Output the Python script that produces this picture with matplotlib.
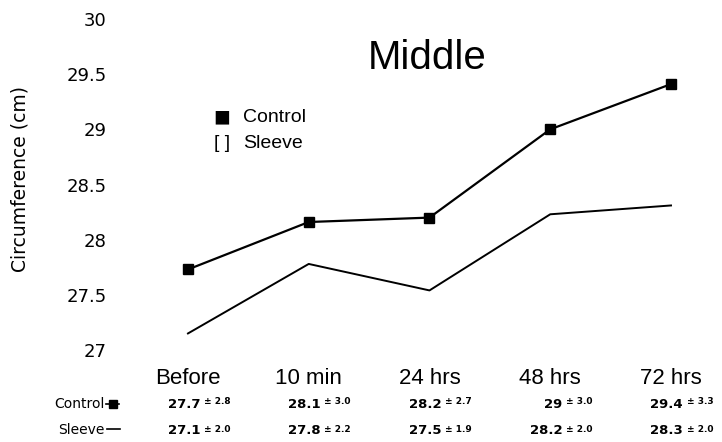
import matplotlib
matplotlib.use("Agg")
import matplotlib.pyplot as plt
import matplotlib.transforms as mtransforms

plt.rcParams['font.family'] = ['Liberation Sans', 'DejaVu Sans']

categories = ["Before", "10 min", "24 hrs", "48 hrs", "72 hrs"]
control = [27.73, 28.16, 28.20, 29.0, 29.41]
sleeve = [27.15, 27.78, 27.54, 28.23, 28.31]
control_mean_txt = ["27.7", "28.1", "28.2", "29", "29.4"]
control_sd_txt = ["2.8", "3.0", "2.7", "3.0", "3.3"]
sleeve_mean_txt = ["27.1", "27.8", "27.5", "28.2", "28.3"]
sleeve_sd_txt = ["2.0", "2.2", "1.9", "2.0", "2.0"]
yticks = [27, 27.5, 28, 28.5, 29, 29.5, 30]
ytick_labels = ["27", "27.5", "28", "28.5", "29", "29.5", "30"]

W, H = 722, 442
fig = plt.figure(figsize=(W / 100, H / 100), dpi=100)
L, R = 130, 712
ax = fig.add_axes([L / W, 92 / H, (R - L) / W, (423 - 92) / H])
x = list(range(len(categories)))
ax.plot(x, control, color='black', lw=1.6, marker='s', markersize=7.5)
ax.plot(x, sleeve, color='black', lw=1.4)
ax.set_xlim(-0.48, 4 + (R - 671) / 120.75)
ax.set_ylim(27, 30)
for s in ax.spines.values():
    s.set_visible(False)
ax.set_yticks(yticks)
ax.set_yticklabels(ytick_labels, fontsize=13, family='DejaVu Sans')
ax.tick_params(axis='y', length=0, pad=17)
ax.set_xticks([])
ax.set_ylabel("Circumference (cm)", fontsize=13.5, family='DejaVu Sans')
ax.yaxis.set_label_coords(-(L - 29) / (R - L), 0.5 + (186 - 181) / (423 - 92))

# title
fig.text(427 / W, 1 - 58 / H, "Middle", fontsize=29, ha='center', va='center')

# legend
fig.text(222 / W, 1 - 118 / H, "\u25A0", fontsize=20, ha='center', va='center')
fig.text(243 / W, 1 - 117 / H, "Control", fontsize=14, ha='left', va='center')
fig.text(222 / W, 1 - 143 / H, "[ ]", fontsize=14, ha='center', va='center')
fig.text(243 / W, 1 - 143 / H, "Sleeve", fontsize=14, ha='left', va='center')

# category labels and table
trans = mtransforms.blended_transform_factory(ax.transData, fig.transFigure)
for i, c in enumerate(categories):
    ax.text(i, 1 - 379 / H, c, fontsize=16, ha='center', va='center', transform=trans)
    ax.text(i + 0.1, 1 - 404 / H, control_mean_txt[i], fontsize=9.5, fontweight='bold',
            family='DejaVu Sans', ha='right', va='center', transform=trans)
    ax.text(i + 0.13, 1 - 402 / H, "\u00B1 " + control_sd_txt[i], fontsize=6.5,
            fontweight='bold', family='DejaVu Sans', ha='left', va='center', transform=trans)
    ax.text(i + 0.1, 1 - 430 / H, sleeve_mean_txt[i], fontsize=9.5, fontweight='bold',
            family='DejaVu Sans', ha='right', va='center', transform=trans)
    ax.text(i + 0.13, 1 - 430 / H, "\u00B1 " + sleeve_sd_txt[i], fontsize=6.5,
            fontweight='bold', family='DejaVu Sans', ha='left', va='center', transform=trans)

fig.text(105 / W, 1 - 404 / H, "Control", fontsize=10, family='DejaVu Sans',
         ha='right', va='center')
fig.text(104 / W, 1 - 430 / H, "Sleeve", fontsize=10, family='DejaVu Sans',
         ha='right', va='center')
fig.add_artist(plt.Line2D([106 / W, 119 / W], [1 - 404 / H] * 2, color='black', lw=1.2,
                          transform=fig.transFigure))
fig.add_artist(plt.Line2D([113 / W], [1 - 404 / H], color='black', marker='s', markersize=6,
                          transform=fig.transFigure))
fig.add_artist(plt.Line2D([107 / W, 120 / W], [1 - 429 / H] * 2, color='black', lw=1.2,
                          transform=fig.transFigure))

fig.savefig("out.png", dpi=100)
